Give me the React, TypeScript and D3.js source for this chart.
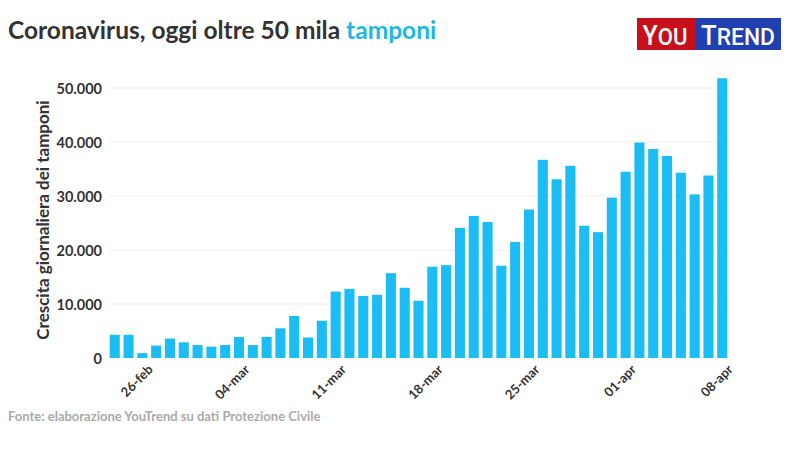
import * as d3 from "d3";
import React, { useEffect, useRef } from "react";

// giorni (24-feb .. 08-apr) e crescita giornaliera dei tamponi
const days: string[] = [
	"24-feb", "25-feb", "26-feb", "27-feb", "28-feb", "29-feb",
	"01-mar", "02-mar", "03-mar", "04-mar", "05-mar", "06-mar", "07-mar",
	"08-mar", "09-mar", "10-mar", "11-mar", "12-mar", "13-mar", "14-mar",
	"15-mar", "16-mar", "17-mar", "18-mar", "19-mar", "20-mar", "21-mar",
	"22-mar", "23-mar", "24-mar", "25-mar", "26-mar", "27-mar", "28-mar",
	"29-mar", "30-mar", "31-mar", "01-apr", "02-apr", "03-apr", "04-apr",
	"05-apr", "06-apr", "07-apr", "08-apr",
];
const tamponi: number[] = [
	4300, 4300, 900, 2300, 3600, 2900, 2400, 2100, 2400, 3900, 2400, 3900,
	5500, 7800, 3800, 6900, 12300, 12800, 11500, 11700, 15700, 13000, 10600,
	16900, 17200, 24100, 26300, 25200, 17100, 21500, 27500, 36700, 33100,
	35600, 24500, 23300, 29700, 34500, 39900, 38700, 37400, 34300, 30300,
	33800, 51800,
];
const yTicks: number[] = [0, 10000, 20000, 30000, 40000, 50000];
const xTicks: string[] = ["26-feb", "04-mar", "11-mar", "18-mar", "25-mar", "01-apr", "08-apr"];

const W = 800;
const H = 450;
const left = 109;
const right = 728;
const top = 88;
const bottom = 358;
const barColor = "#1cbcf4";
const font = "Lato, 'Open Sans', sans-serif";

const App = () => {
	const ref = useRef<SVGSVGElement>(null);

	useEffect(() => {
		const svg = d3.select(ref.current);
		svg.selectAll("*").remove();

		const x = d3.scaleBand().domain(days).range([left, right]).paddingInner(0.27).paddingOuter(0.05);
		const y = d3.scaleLinear().domain([0, 50000]).range([bottom, top]);

		svg.append("rect").attr("width", W).attr("height", H).attr("fill", "#fff");

		// griglia
		svg.append("g")
			.selectAll("line")
			.data(yTicks.filter((t) => t > 0))
			.join("line")
			.attr("x1", left)
			.attr("x2", right)
			.attr("y1", (d) => y(d))
			.attr("y2", (d) => y(d))
			.attr("stroke", "#f0f0f0")
			.attr("stroke-width", 1);

		// asse y
		const yAxis = svg.append("g")
			.attr("transform", `translate(${left - 4},0)`)
			.call(
				d3.axisLeft(y)
					.tickValues(yTicks)
					.tickSize(0)
					.tickFormat((d) => d3.format(",")(d as number).replace(/,/g, "."))
			);
		yAxis.select(".domain").remove();
		yAxis.selectAll("text")
			.attr("font-family", font)
			.attr("font-weight", "bold")
			.attr("font-size", 14.5)
			.attr("fill", "#333")
			.attr("dy", "0.35em");

		// barre
		svg.append("g")
			.selectAll("rect")
			.data(tamponi)
			.join("rect")
			.attr("x", (_, i) => x(days[i]) as number)
			.attr("width", x.bandwidth())
			.attr("y", (d) => y(d))
			.attr("height", (d) => bottom - y(d))
			.attr("fill", barColor);

		// asse x
		const xAxis = svg.append("g")
			.attr("transform", `translate(0,${bottom})`)
			.call(d3.axisBottom(x).tickValues(xTicks).tickSize(0));
		xAxis.select(".domain").remove();
		xAxis.selectAll("text")
			.attr("font-family", font)
			.attr("font-weight", "bold")
			.attr("font-size", 13)
			.attr("fill", "#333")
			.attr("text-anchor", "end")
			.attr("transform", "translate(6,7) rotate(-45)")
			.attr("dy", "0.35em");

		// titolo asse y
		svg.append("text")
			.attr("transform", `translate(49,220) rotate(-90)`)
			.attr("text-anchor", "middle")
			.attr("font-family", font)
			.attr("font-weight", "bold")
			.attr("font-size", 17)
			.attr("fill", "#333")
			.text("Crescita giornaliera dei tamponi");

		// titolo
		const title = svg.append("text")
			.attr("x", 8)
			.attr("y", 39)
			.attr("font-family", font)
			.attr("font-weight", "bold")
			.attr("font-size", 24.5)
			.attr("fill", "#333");
		title.append("tspan").text("Coronavirus, oggi oltre 50 mila ");
		title.append("tspan").attr("fill", "#1cb8e0").text("tamponi");

		// fonte
		svg.append("text")
			.attr("x", 8)
			.attr("y", 421)
			.attr("font-family", font)
			.attr("font-weight", "bold")
			.attr("font-size", 13)
			.attr("fill", "#aaa")
			.text("Fonte: elaborazione YouTrend su dati Protezione Civile");

		// logo
		const logo = svg.append("g");
		logo.append("rect").attr("x", 637).attr("y", 18).attr("width", 58).attr("height", 32).attr("fill", "#c8101a");
		logo.append("rect").attr("x", 695).attr("y", 18).attr("width", 86).attr("height", 32).attr("fill", "#1f40b0");
		const word = (cx: number, sx: number, big: string, rest: string) => {
			const t = logo.append("text")
				.attr("transform", `translate(${cx},45) scale(${sx},1)`)
				.attr("text-anchor", "middle")
				.attr("font-family", "Roboto, sans-serif")
				.attr("font-weight", 500)
				.attr("fill", "#fff");
			t.append("tspan").attr("font-size", 27).text(big);
			t.append("tspan").attr("font-size", 24).text(rest);
		};
		word(665, 0.92, "Y", "OU");
		word(738, 0.95, "T", "REND");
	});

	return (
		<svg
			ref={ref}
			width={W}
			height={H}
			style={{ position: "absolute", left: 0, top: 0, display: "block" }}
		></svg>
	);
};

export default App;
